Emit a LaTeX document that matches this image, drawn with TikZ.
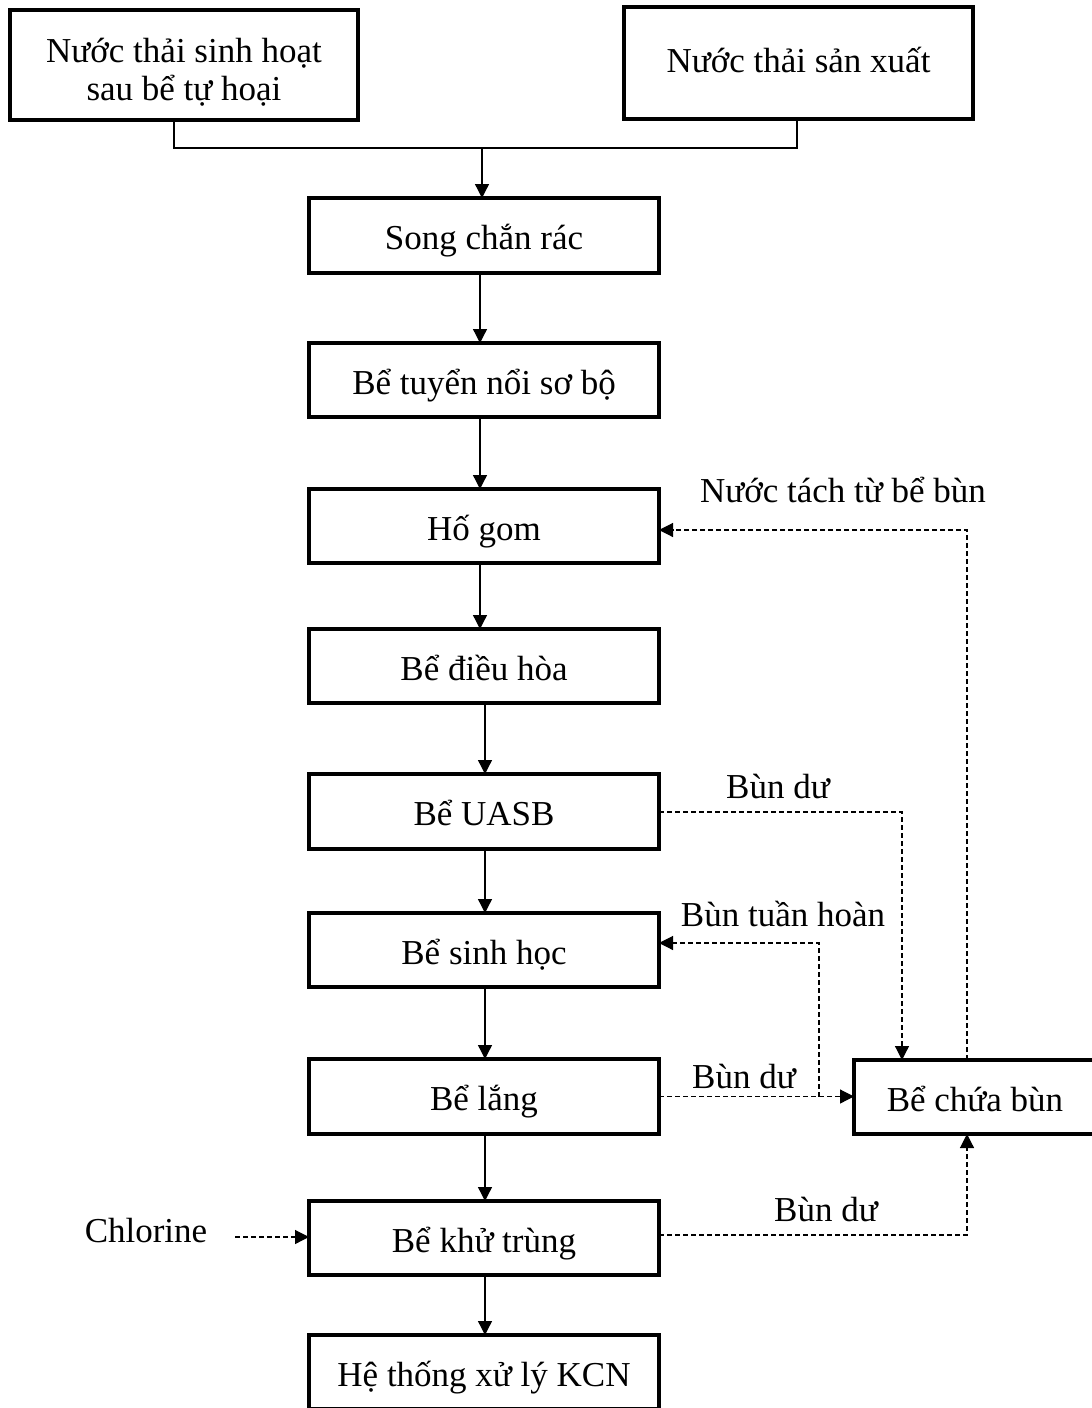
\documentclass[tikz,border=0pt]{standalone}
\usepackage{fontspec}
\setmainfont{Liberation Serif}
\usetikzlibrary{arrows.meta}

\tikzset{
  stagebox/.style={draw, line width=3.2pt, inner sep=0pt, outer sep=0pt,
    align=center, minimum width=350pt, minimum height=74pt,
    text height=31pt, text depth=3pt},
  tag/.style={inner sep=0pt, align=center},
  flow/.style={line width=1.3pt, -{Triangle[length=14pt,width=14pt]}},
  pipe/.style={line width=1.3pt},
  sludge/.style={line width=1.2pt, dash pattern=on 5pt off 3pt,
    -{Triangle[length=14pt,width=14pt]}},
}

\begin{document}
\begin{tikzpicture}[x=1pt, y=-1pt, font=\fontsize{35}{38}\selectfont]
  \useasboundingbox (0,0) rectangle (1092,1408);

  % sources
  \node[stagebox, minimum width=348pt, minimum height=110pt,
        text height=, text depth=] (src1) at (184,65)
    {\raisebox{-9pt}[\height][\depth]{\begin{tabular}{@{}c@{}}Nước thải sinh hoạt\\sau bể tự hoại\end{tabular}}};
  \node[stagebox, minimum width=349pt, minimum height=112pt,
        text height=25pt, text depth=7pt] (src2) at (798.5,63)
    {Nước thải sản xuất};

  % main treatment line
  \node[stagebox, minimum height=75pt] (song)   at (484,235.5) {Song chắn rác};
  \node[stagebox] (tuyen)    at (484,380)   {Bể tuyển nổi sơ bộ};
  \node[stagebox] (hogom)    at (484,526)   {Hố gom};
  \node[stagebox] (dieuhoa)  at (484,666)   {Bể điều hòa};
  \node[stagebox, minimum height=75pt] (uasb) at (484,811.5) {Bể UASB};
  \node[stagebox] (sinhhoc)  at (484,950)   {Bể sinh học};
  \node[stagebox, minimum height=75pt] (lang) at (484,1096.5) {Bể lắng};
  \node[stagebox] (khutrung) at (484,1238)  {Bể khử trùng};
  \node[stagebox] (he)       at (484,1372)  {Hệ thống xử lý KCN};

  % sludge tank
  \node[stagebox, minimum width=242pt] (chuabun) at (975,1097) {Bể chứa bùn};

  % labels
  \node[tag] (lbnuoc)  at (843,490)  {Nước tách từ bể bùn};
  \node[tag] (lbdu1)   at (778,786)  {Bùn dư};
  \node[tag] (lbtuan)  at (783,914)  {Bùn tuần hoàn};
  \node[tag] (lbdu2)   at (744,1076) {Bùn dư};
  \node[tag] (lbdu3)   at (826,1209) {Bùn dư};
  \node[tag] (chl)     at (146,1231) {Chlorine};

  % merging the two inflows
  \coordinate (j1) at (174,148);
  \coordinate (j2) at (797,148);
  \coordinate (jm) at (482,148);
  \draw[pipe] (src1.south -| j1) -- (j1) -- (j2) -- (src2.south -| j2);
  \draw[flow] (jm) -- (song.north -| jm);

  % vertical flow
  \draw[flow] ([xshift=-4pt]song.south)    -- ([xshift=-4pt]tuyen.north);
  \draw[flow] ([xshift=-4pt]tuyen.south)   -- ([xshift=-4pt]hogom.north);
  \draw[flow] ([xshift=-4pt]hogom.south)   -- ([xshift=-4pt]dieuhoa.north);
  \draw[flow] ([xshift=1pt]dieuhoa.south)  -- ([xshift=1pt]uasb.north);
  \draw[flow] ([xshift=1pt]uasb.south)     -- ([xshift=1pt]sinhhoc.north);
  \draw[flow] ([xshift=1pt]sinhhoc.south)  -- ([xshift=1pt]lang.north);
  \draw[flow] ([xshift=1pt]lang.south)     -- ([xshift=1pt]khutrung.north);
  \draw[flow] ([xshift=1pt]khutrung.south) -- ([xshift=1pt]he.north);

  % sludge and return lines
  \coordinate (r1) at (967,530);
  \draw[sludge] (chuabun.north -| r1) -- (r1) -- (hogom.east |- r1);

  \coordinate (r2) at (902,812);
  \draw[sludge] (uasb.east |- r2) -- (r2) -- (chuabun.north -| r2);

  \draw[sludge] (lang.east) -- (chuabun.west |- lang.east);

  \coordinate (r3) at (819,1096.5);
  \coordinate (r4) at (819,943);
  \draw[sludge] (r3) -- (r4) -- (sinhhoc.east |- r4);

  \coordinate (r5) at (967,1235);
  \draw[sludge] (khutrung.east |- r5) -- (r5) -- (chuabun.south -| r5);

  \coordinate (c1) at (235,1237);
  \draw[sludge] (c1) -- (khutrung.west |- c1);
\end{tikzpicture}
\end{document}
